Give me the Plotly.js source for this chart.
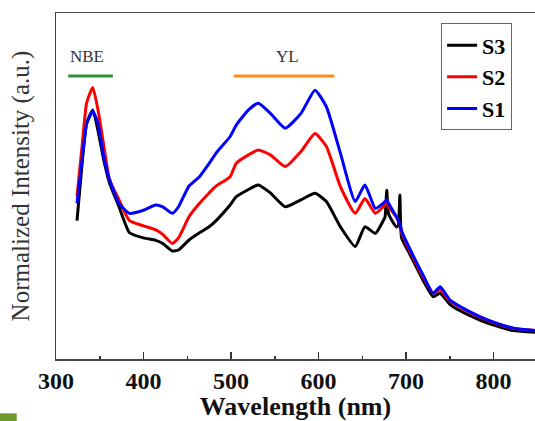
<!DOCTYPE html>
<html>
<head>
<meta charset="utf-8">
<script src="https://cdn.plot.ly/plotly-3.0.1.min.js"></script>
<style>html,body{margin:0;padding:0;background:#fff;}#chart{width:535px;height:421px;}</style>
</head>
<body>
<div id="chart"></div>
<script>
const wavelength = [324,330,335,342,348,355,361,372,384,400,414,422,433,440,452,464,475,483,499,506,520,531,545,562,580,596,609,625,642,653,665,674,676,678,680,689,691,693,695,705,720,731,739,750,765,785,804,823,848];
const s1 = [0.45,0.58,0.68,0.715,0.68,0.58,0.52,0.45,0.421,0.43,
            0.445,0.44,0.421,0.44,0.50,0.527,0.565,0.595,0.643,0.676,
            0.72,0.739,0.71,0.667,0.71,0.777,0.729,0.595,0.455,0.503,
            0.435,0.45,0.455,0.46,0.45,0.411,0.40,0.39,0.37,0.315,
            0.24,0.19,0.209,0.171,0.147,0.122,0.103,0.089,0.082];
const s2 = [0.47,0.62,0.74,0.785,0.72,0.61,0.52,0.46,0.40,0.385,
            0.373,0.36,0.334,0.35,0.411,0.45,0.48,0.50,0.527,0.566,
            0.59,0.604,0.59,0.556,0.60,0.652,0.614,0.498,0.421,0.464,
            0.421,0.44,0.445,0.45,0.44,0.41,0.40,0.39,0.365,0.31,
            0.235,0.19,0.20,0.168,0.145,0.12,0.102,0.088,0.082];
const s3 = [0.40,0.57,0.68,0.72,0.66,0.57,0.51,0.44,0.365,0.35,
            0.343,0.334,0.312,0.315,0.344,0.365,0.382,0.40,0.445,0.469,
            0.49,0.503,0.48,0.44,0.46,0.479,0.455,0.382,0.325,0.382,
            0.363,0.40,0.41,0.488,0.42,0.382,0.385,0.474,0.35,0.30,
            0.225,0.18,0.19,0.158,0.135,0.112,0.095,0.082,0.077];
const seriesNames = ['S3','S2','S1'];
const seriesColors = ['#000000','#ff0000','#0000ff'];
const nbeRange = [314, 365];
const ylRange = [503, 618];
const bandLevel = 0.818;
const labelLevel = 0.873;

const serif = 'Liberation Serif, Times New Roman, serif';
const traces = [s3, s2, s1].map((ys, i) => ({
  x: wavelength, y: ys, type: 'scatter', mode: 'lines', name: seriesNames[i],
  line: {color: seriesColors[i], width: 3, shape: 'spline', smoothing: 0.5}
}));

const layout = {
  width: 535, height: 421,
  margin: {l: 56, r: 0, t: 13, b: 62},
  paper_bgcolor: '#fff', plot_bgcolor: '#fff',
  showlegend: true,
  legend: {
    x: 0.804, y: 0.97, xanchor: 'left', yanchor: 'top',
    bordercolor: '#666', borderwidth: 1, bgcolor: '#fff',
    font: {family: serif, size: 22, color: '#000', weight: 'bold'},
    tracegroupgap: 0
  },
  xaxis: {
    range: [300, 847.4], showgrid: false, zeroline: false,
    showline: true, linecolor: '#444', linewidth: 1.5, mirror: true,
    ticks: 'inside', ticklen: 7, tickwidth: 1.5, tickcolor: '#333',
    dtick: 100, tick0: 300,
    minor: {dtick: 50, ticks: 'inside', ticklen: 3.5, tickwidth: 1.5, tickcolor: '#333'},
    tickfont: {family: serif, size: 24, color: '#111', weight: 'bold'},
    title: {text: 'Wavelength (nm)', font: {family: serif, size: 26, color: '#111', weight: 'bold'}, standoff: 4}
  },
  yaxis: {
    range: [0, 1], showgrid: false, zeroline: false,
    showline: true, linecolor: '#444', linewidth: 1.5, mirror: false,
    ticks: '', showticklabels: false,
    title: {text: 'Normalized Intensity (a.u.)', font: {family: serif, size: 25, color: '#333'}, standoff: 18}
  },
  shapes: [
    {type: 'line', xref: 'x', yref: 'y', x0: nbeRange[0], x1: nbeRange[1], y0: bandLevel, y1: bandLevel, line: {color: '#2f8f3a', width: 3}},
    {type: 'line', xref: 'x', yref: 'y', x0: ylRange[0], x1: ylRange[1], y0: bandLevel, y1: bandLevel, line: {color: '#ff8c1a', width: 3}},
    {type: 'rect', xref: 'paper', yref: 'paper', x0: -0.117, x1: -0.082, y0: -0.18, y1: -0.157, fillcolor: '#6e9a2e', line: {width: 0}, layer: 'above'}
  ],
  annotations: [
    {x: (nbeRange[0] + nbeRange[1]) / 2 - 4, y: labelLevel, xref: 'x', yref: 'y', text: 'NBE', showarrow: false, font: {family: serif, size: 17, color: '#333'}},
    {x: (ylRange[0] + ylRange[1]) / 2 + 4, y: labelLevel, xref: 'x', yref: 'y', text: 'YL', showarrow: false, font: {family: serif, size: 17, color: '#333'}}
  ]
};
Plotly.newPlot('chart', traces, layout, {displayModeBar: false, staticPlot: true});
</script>
</body>
</html>
